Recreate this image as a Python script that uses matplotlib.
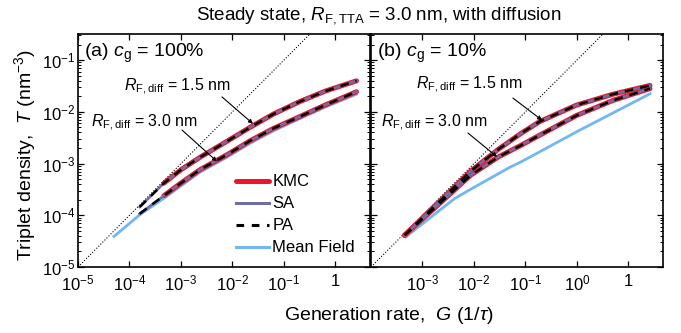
import matplotlib
matplotlib.use("Agg")
import matplotlib.pyplot as plt

plt.rcParams['font.family'] = ['Liberation Sans', 'DejaVu Sans']
plt.rcParams['mathtext.fontset'] = 'custom'
plt.rcParams['mathtext.rm'] = 'Liberation Sans'
plt.rcParams['mathtext.it'] = 'Liberation Sans:italic'
plt.rcParams['mathtext.bf'] = 'Liberation Sans:bold'

# ---- data ----
diag_G = [1e-5, 10]
diag_T = [1e-5, 10]

# (a) c_g = 100%
G_a = [1.58e-4, 4.68e-4, 1.0e-3, 2.34e-3, 8.1e-3, 0.0219, 0.063, 0.204, 0.63, 2.57]
T_a_15 = [1.45e-4, 4.2e-4, 7.6e-4, 1.32e-3, 2.75e-3, 5.0e-3, 9.1e-3, 0.0158, 0.0251, 0.0398]
T_a_30 = [1.07e-4, 2.4e-4, 4.2e-4, 7.6e-4, 1.51e-3, 2.75e-3, 4.8e-3, 8.1e-3, 0.0135, 0.0245]
kmc_start_a = 1  # KMC only computed from G ~ 5e-4
G_a_mf = [5.0e-5, 1.58e-4, 4.68e-4, 1.0e-3, 2.34e-3, 8.1e-3, 0.0219, 0.063, 0.204, 0.63, 2.57]
T_a_mf = [3.9e-5, 1.02e-4, 2.14e-4, 3.7e-4, 6.8e-4, 1.35e-3, 2.45e-3, 4.3e-3, 7.4e-3, 0.0123, 0.0219]

# (b) c_g = 10%
G_b = [4.47e-5, 2.0e-4, 8.7e-4, 3.0e-3, 8.1e-3, 0.019, 0.098, 0.5, 2.63]
T_b_15 = [4.1e-5, 1.74e-4, 7.2e-4, 1.9e-3, 3.8e-3, 6.5e-3, 0.0135, 0.0219, 0.0324]
T_b_30 = [4.1e-5, 1.58e-4, 6.0e-4, 1.35e-3, 2.24e-3, 3.55e-3, 8.5e-3, 0.0166, 0.0282]
G_b_mf = [4.7e-5, 4.2e-4, 8.7e-4, 5.0e-3, 8.1e-3, 0.098, 0.5, 2.63]
T_b_mf = [3.8e-5, 2.1e-4, 3.2e-4, 8.5e-4, 1.07e-3, 4.1e-3, 9.5e-3, 0.0224]

xticks_a = [1e-5, 1e-4, 1e-3, 1e-2, 1e-1, 1]
xlabels_a = ['$10^{-5}$', '$10^{-4}$', '$10^{-3}$', '$10^{-2}$', '$10^{-1}$', '1']
xticks_b = [1e-4, 1e-3, 1e-2, 1e-1, 1]
xlabels_b = ['$10^{-3}$', '$10^{-2}$', '$10^{-1}$', '$10^{0}$', '1']
yticks = [1e-5, 1e-4, 1e-3, 1e-2, 1e-1]
ylabels = ['$10^{-5}$', '$10^{-4}$', '$10^{-3}$', '$10^{-2}$', '$10^{-1}$']

c_kmc = '#f0142a'
c_sa = '#6e6ea6'
c_pa = 'black'
c_mf = '#72b6f2'

fig = plt.figure(figsize=(6.81, 3.33), dpi=100)
ax_a = fig.add_axes([78/681, 1-267/333, 292/681, 233/333])
ax_b = fig.add_axes([371/681, 1-267/333, 292/681, 233/333])


def draw_set(ax, G, T, kmc_from=0):
    ax.plot(G[kmc_from:], T[kmc_from:], color=c_kmc, lw=3.6, solid_capstyle='round', zorder=2)
    ax.plot(G, T, color=c_sa, lw=1.9, zorder=3)
    ax.plot(G, T, color=c_pa, lw=1.8, dashes=(3.5, 2.8), zorder=4)


for ax in (ax_a, ax_b):
    ax.set_xscale('log')
    ax.set_yscale('log')
    ax.set_xlim(1e-5, 4.7)
    ax.set_ylim(1e-5, 0.32)
    ax.plot(diag_G, diag_T, color='black', lw=0.8, ls=(0, (1, 1.6)), zorder=1)
    ax.tick_params(which='both', direction='in', top=True, right=True, labelsize=12)
    ax.tick_params(which='major', length=4, width=0.9)
    ax.tick_params(which='minor', length=2, width=0.7)
    ax.tick_params(axis='x', pad=5)
    ax.tick_params(axis='y', pad=2)
    ax.set_yticks(yticks)
    for s in ax.spines.values():
        s.set_linewidth(1.2)

# panel (a)
ax_a.plot(G_a_mf, T_a_mf, color=c_mf, lw=2.0, zorder=1.5)
draw_set(ax_a, G_a, T_a_15, kmc_start_a)
draw_set(ax_a, G_a, T_a_30, kmc_start_a)
ax_a.set_xticks(xticks_a)
ax_a.set_xticklabels(xlabels_a)
ax_a.set_yticklabels(ylabels)
ax_a.text(0.02, 0.915, '(a) $c_\\mathrm{g}$ = 100%', transform=ax_a.transAxes,
          fontsize=14, va='center', ha='left')

# panel (b)
ax_b.plot(G_b_mf, T_b_mf, color=c_mf, lw=2.0, zorder=1.5)
draw_set(ax_b, G_b, T_b_15)
draw_set(ax_b, G_b, T_b_30)
ax_b.set_xticks(xticks_b)
ax_b.set_xticklabels(xlabels_b)
ax_b.set_yticklabels([])
ax_b.text(0.02, 0.915, '(b) $c_\\mathrm{g}$ = 10%', transform=ax_b.transAxes,
          fontsize=14, va='center', ha='left')

arrow = dict(arrowstyle='-|>', lw=0.8, color='black', mutation_scale=6, shrinkA=0, shrinkB=0)
label15 = '$R_{\\mathrm{F,diff}}$ = 1.5 nm'
label30 = '$R_{\\mathrm{F,diff}}$ = 3.0 nm'

ax_a.text(0.342, 0.773, label15, transform=ax_a.transAxes, fontsize=11.5, ha='center', va='center')
ax_a.annotate('', xy=(0.025, 0.0059), xycoords='data', xytext=(0.493, 0.730),
              textcoords='axes fraction', arrowprops=arrow)
ax_a.text(0.229, 0.618, label30, transform=ax_a.transAxes, fontsize=11.5, ha='center', va='center')
ax_a.annotate('', xy=(5.0e-3, 1.1e-3), xycoords='data', xytext=(0.356, 0.588),
              textcoords='axes fraction', arrowprops=arrow)

ax_b.text(0.336, 0.781, label15, transform=ax_b.transAxes, fontsize=11.5, ha='center', va='center')
ax_b.annotate('', xy=(0.021, 6.9e-3), xycoords='data', xytext=(0.486, 0.725),
              textcoords='axes fraction', arrowprops=arrow)
ax_b.text(0.216, 0.618, label30, transform=ax_b.transAxes, fontsize=11.5, ha='center', va='center')
ax_b.annotate('', xy=(2.8e-3, 1.35e-3), xycoords='data', xytext=(0.332, 0.575),
              textcoords='axes fraction', arrowprops=arrow)

# legend
h_kmc, = ax_a.plot([], [], color=c_kmc, lw=3.6, solid_capstyle='round')
h_sa, = ax_a.plot([], [], color=c_sa, lw=2.2)
h_pa, = ax_a.plot([], [], color=c_pa, lw=2.2, dashes=(2.5, 2.5))
h_mf, = ax_a.plot([], [], color=c_mf, lw=2.2)
ax_a.legend([h_kmc, h_sa, h_pa, h_mf], ['KMC', 'SA', 'PA', 'Mean Field'],
            loc='lower left', bbox_to_anchor=(0.5, 0.0), frameon=False, fontsize=12,
            handlelength=2.0, handletextpad=0.2, labelspacing=0.42, borderpad=0.2)

fig.text(0.557, 0.953, 'Steady state, $R_{\\mathrm{F,TTA}}$ = 3.0 nm, with diffusion',
         ha='center', va='center', fontsize=13.5)
fig.text(25/681, 1-155/333, 'Triplet density,  $T$ (nm$^{-3}$)', rotation=90,
         ha='center', va='center', fontsize=14)
fig.text(389/681, 1-316/333, 'Generation rate,  $G$ (1/$\\tau$)', ha='center', va='center', fontsize=14)

fig.savefig('out.png', dpi=100)
